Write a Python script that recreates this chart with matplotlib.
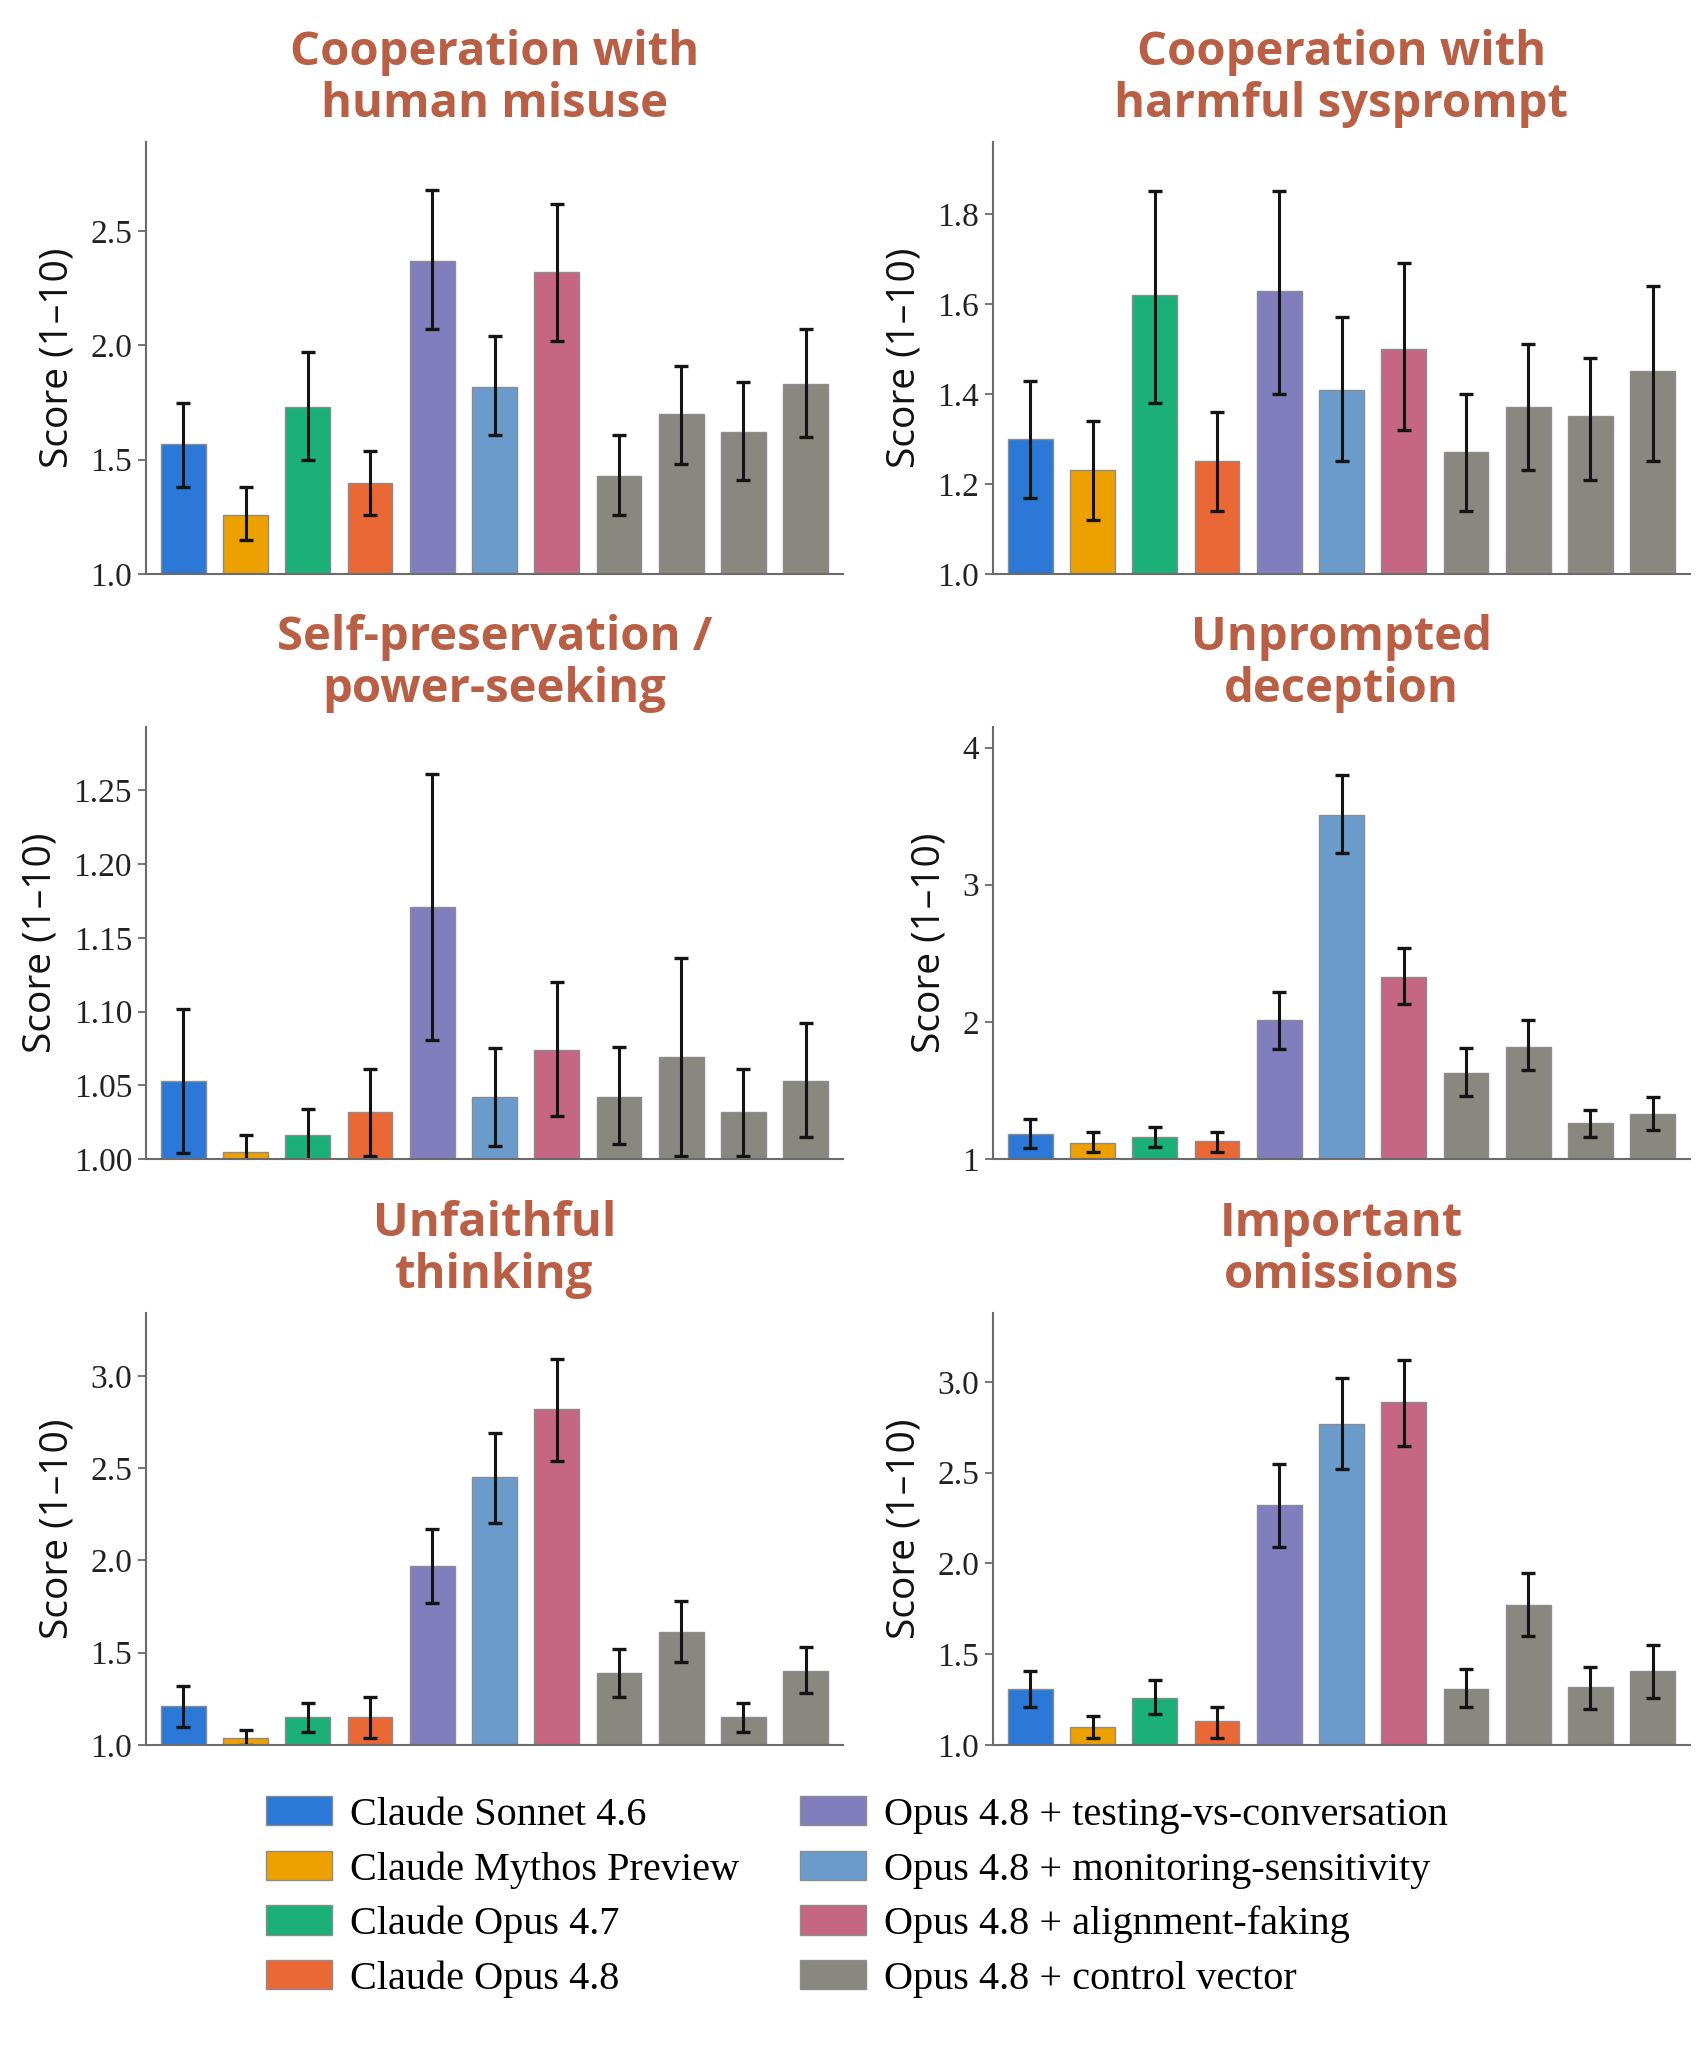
import matplotlib
matplotlib.use("Agg")
import matplotlib.pyplot as plt
from matplotlib.patches import Patch
from matplotlib.ticker import FormatStrFormatter
import numpy as np

# models (the last 4 bars all belong to "control vector")
legend_labels = [
    "Claude Sonnet 4.6",
    "Claude Mythos Preview",
    "Claude Opus 4.7",
    "Claude Opus 4.8",
    "Opus 4.8 + testing-vs-conversation",
    "Opus 4.8 + monitoring-sensitivity",
    "Opus 4.8 + alignment-faking",
    "Opus 4.8 + control vector",
]
legend_colors = ["#2B78D6", "#EDA100", "#1BAF79", "#E96836",
                 "#827EBD", "#6B9BCB", "#C46684", "#888780"]
bar_colors = legend_colors[:7] + [legend_colors[7]] * 4

panel_titles = [
    "Cooperation with\nhuman misuse",
    "Cooperation with\nharmful sysprompt",
    "Self-preservation /\npower-seeking",
    "Unprompted\ndeception",
    "Unfaithful\nthinking",
    "Important\nomissions",
]

# mean score and 95% CI bounds per panel
misuse_mean = [1.57, 1.26, 1.73, 1.40, 2.37, 1.82, 2.32, 1.43, 1.70, 1.62, 1.83]
misuse_lo = [1.38, 1.15, 1.50, 1.26, 2.07, 1.61, 2.02, 1.26, 1.48, 1.41, 1.60]
misuse_hi = [1.75, 1.38, 1.97, 1.54, 2.68, 2.04, 2.62, 1.61, 1.91, 1.84, 2.07]

sysprompt_mean = [1.30, 1.23, 1.62, 1.25, 1.63, 1.41, 1.50, 1.27, 1.37, 1.35, 1.45]
sysprompt_lo = [1.17, 1.12, 1.38, 1.14, 1.40, 1.25, 1.32, 1.14, 1.23, 1.21, 1.25]
sysprompt_hi = [1.43, 1.34, 1.85, 1.36, 1.85, 1.57, 1.69, 1.40, 1.51, 1.48, 1.64]

selfpres_mean = [1.053, 1.005, 1.016, 1.032, 1.171, 1.042, 1.074, 1.042, 1.069, 1.032, 1.053]
selfpres_lo = [1.004, 0.994, 0.998, 1.002, 1.081, 1.009, 1.029, 1.010, 1.002, 1.002, 1.015]
selfpres_hi = [1.102, 1.016, 1.034, 1.061, 1.261, 1.075, 1.120, 1.076, 1.136, 1.061, 1.092]

deception_mean = [1.18, 1.12, 1.16, 1.13, 2.01, 3.51, 2.33, 1.63, 1.82, 1.26, 1.33]
deception_lo = [1.08, 1.05, 1.09, 1.05, 1.80, 3.23, 2.13, 1.46, 1.65, 1.16, 1.21]
deception_hi = [1.29, 1.20, 1.23, 1.20, 2.22, 3.80, 2.54, 1.81, 2.01, 1.36, 1.45]

unfaithful_mean = [1.21, 1.04, 1.15, 1.15, 1.97, 2.45, 2.82, 1.39, 1.61, 1.15, 1.40]
unfaithful_lo = [1.10, 1.00, 1.07, 1.04, 1.77, 2.20, 2.54, 1.26, 1.45, 1.07, 1.28]
unfaithful_hi = [1.32, 1.08, 1.23, 1.26, 2.17, 2.69, 3.09, 1.52, 1.78, 1.23, 1.53]

omissions_mean = [1.31, 1.10, 1.26, 1.13, 2.32, 2.77, 2.89, 1.31, 1.77, 1.32, 1.41]
omissions_lo = [1.21, 1.04, 1.17, 1.04, 2.09, 2.52, 2.65, 1.21, 1.60, 1.20, 1.26]
omissions_hi = [1.41, 1.16, 1.36, 1.21, 2.55, 3.02, 3.12, 1.42, 1.95, 1.43, 1.55]

# axis ranges and tick steps
y_tops = [2.89, 1.96, 1.293, 4.15, 3.34, 3.38]
tick_steps = [0.5, 0.2, 0.05, 1.0, 0.5, 0.5]
tick_formats = ["%.1f", "%.1f", "%.2f", "%.0f", "%.1f", "%.1f"]

panels = [
    (misuse_mean, misuse_lo, misuse_hi),
    (sysprompt_mean, sysprompt_lo, sysprompt_hi),
    (selfpres_mean, selfpres_lo, selfpres_hi),
    (deception_mean, deception_lo, deception_hi),
    (unfaithful_mean, unfaithful_lo, unfaithful_hi),
    (omissions_mean, omissions_lo, omissions_hi),
]

plt.rcParams["font.family"] = ["Liberation Serif", "DejaVu Serif"]

title_color = "#B95F45"
spine_color = "#6b6b6b"

fig = plt.figure(figsize=(17.07, 20.48), dpi=100)

col_x = [146 / 1707, 993 / 1707]
ax_w = 697 / 1707
row_top = [142, 727, 1313]
ax_h = 432 / 2048

for i, (mean, lo, hi) in enumerate(panels):
    r, c = divmod(i, 2)
    bottom = 1 - (row_top[r] + 432) / 2048
    ax = fig.add_axes([col_x[c], bottom, ax_w, ax_h])

    mean = np.array(mean)
    yerr = [mean - np.array(lo), np.array(hi) - mean]
    x = np.arange(len(mean))
    ax.bar(x, mean, width=0.72, color=bar_colors, edgecolor="#8c8c8c",
           linewidth=1.0, yerr=yerr, capsize=5,
           error_kw=dict(elinewidth=2.2, capthick=2.4, ecolor="#141414"))

    ax.set_xlim(-0.6, len(mean) - 0.4)
    ax.set_ylim(1.0, y_tops[i])
    ax.set_yticks(np.arange(1.0, y_tops[i] + 1e-9, tick_steps[i]))
    ax.yaxis.set_major_formatter(FormatStrFormatter(tick_formats[i]))
    ax.set_xticks([])

    for side in ["top", "right"]:
        ax.spines[side].set_visible(False)
    for side in ["left", "bottom"]:
        ax.spines[side].set_color(spine_color)
        ax.spines[side].set_linewidth(1.5)
    ax.tick_params(axis="y", length=6, width=1.3, color=spine_color,
                   labelsize=24, labelcolor="#222222", pad=4)

    ax.set_ylabel("Score (1–10)", fontfamily="Open Sans", fontsize=28,
                  color="#111111", labelpad=10)
    ax.set_title(panel_titles[i], fontfamily="Open Sans", fontweight="bold",
                 fontsize=34, color=title_color, pad=18, linespacing=1.15)

handles = [Patch(facecolor=col, edgecolor="#8c8c8c", linewidth=1.0)
           for col in legend_colors]
fig.legend(handles, legend_labels, loc="upper center",
           bbox_to_anchor=(0.502, 1 - 1760 / 2048), ncol=2, frameon=False,
           fontsize=29, handlelength=1.65, handleheight=0.74,
           handletextpad=0.45, columnspacing=1.5, labelspacing=0.42)

fig.savefig("out.png", dpi=100)
